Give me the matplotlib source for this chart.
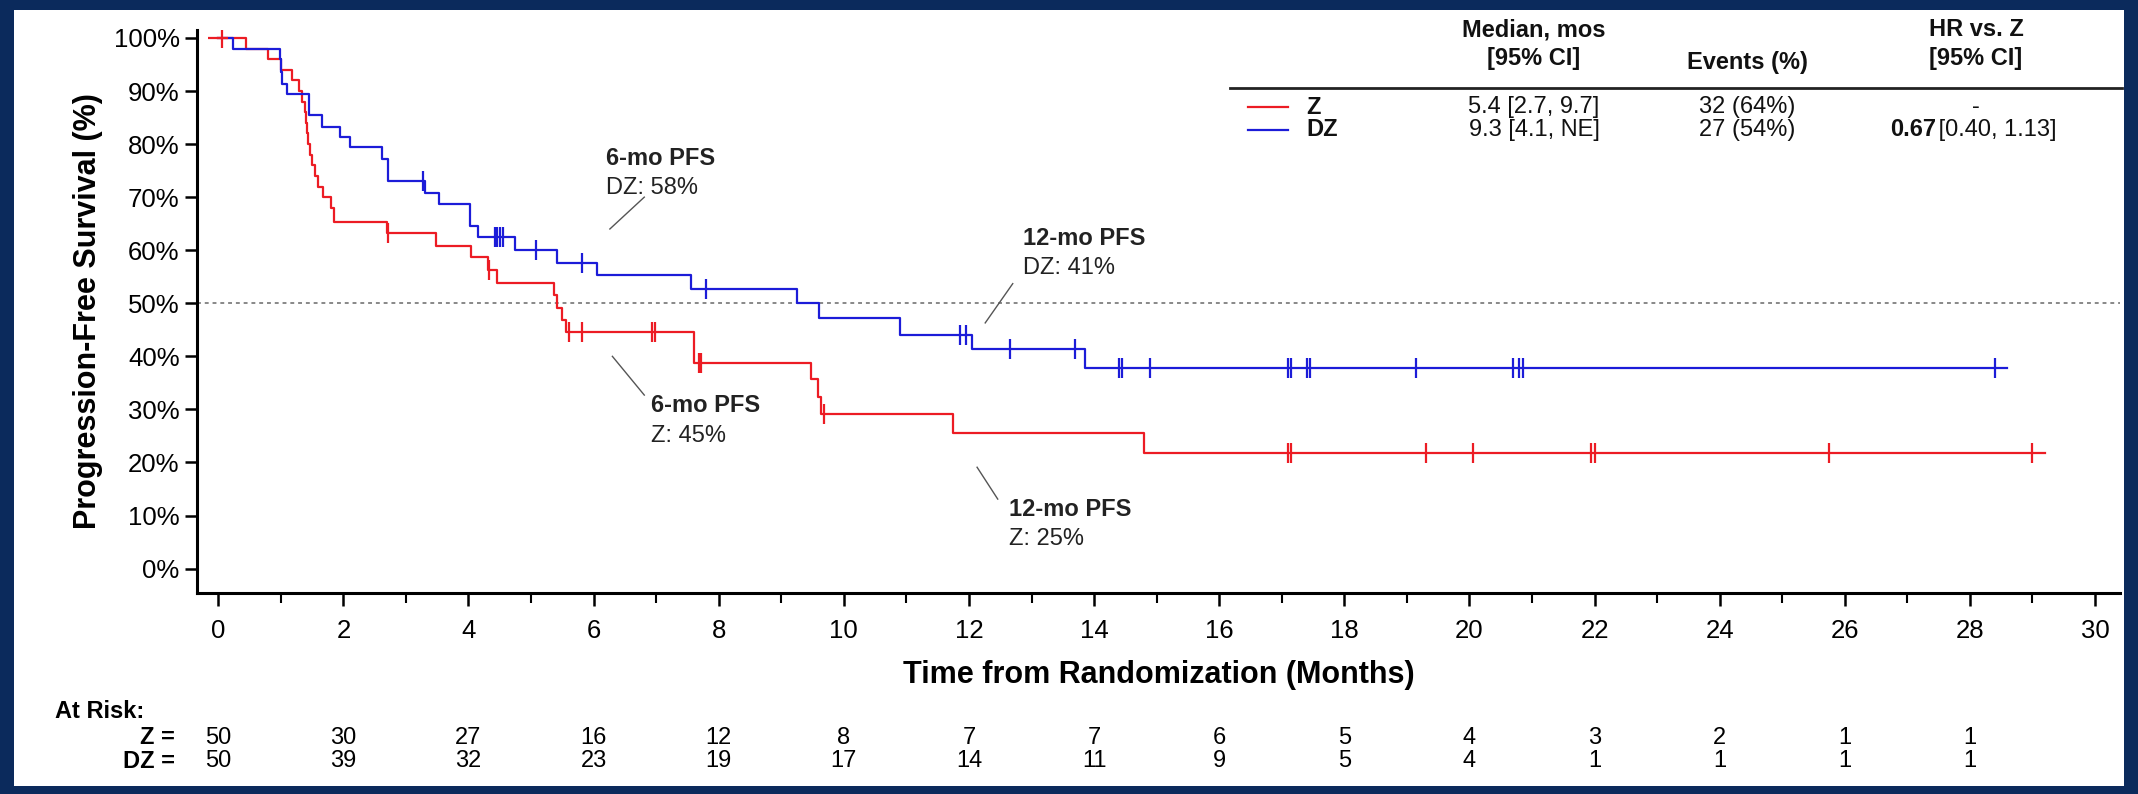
import matplotlib
matplotlib.use("Agg")
import matplotlib.pyplot as plt
import numpy as np
from matplotlib.patches import Rectangle
from matplotlib.lines import Line2D

plt.rcParams["font.family"] = ["Liberation Sans", "DejaVu Sans"]

# ----- data -----
z_event_t = [0.45, 0.8, 1.0, 1.18, 1.29, 1.34, 1.38, 1.40, 1.42, 1.44, 1.46, 1.5, 1.55, 1.6,
             1.68, 1.8, 1.85, 2.69, 3.48, 4.04, 4.31, 4.46, 5.36, 5.41, 5.5, 5.56, 7.61,
             9.48, 9.58, 9.63, 11.75, 14.8]
z_event_s = [98, 96, 94, 92, 90, 88, 86, 84, 82, 80, 78, 76, 74, 72,
             70, 68, 65.3, 63.2, 60.8, 58.7, 56.2, 53.9, 51.5, 49.2, 46.9, 44.6, 38.8,
             35.7, 32.4, 29.1, 25.5, 21.8]
z_censor = [0.06, 2.71, 4.33, 5.61, 5.81, 6.94, 6.98, 7.68, 7.72, 9.68, 17.1, 17.15,
            19.3, 20.05, 21.95, 22.0, 25.75, 29.0]
z_end = 29.2

dz_event_t = [0.24, 0.98, 1.0, 1.02, 1.1, 1.45, 1.66, 1.95, 2.11, 2.61, 2.71, 3.3, 3.53,
              4.02, 4.15, 4.74, 5.41, 6.05, 7.55, 9.25, 9.6, 10.9, 12.05, 13.85]
dz_event_s = [98, 96, 93.6, 91.4, 89.4, 85.5, 83.3, 81.3, 79.4, 77.2, 73.0, 70.8, 68.7,
              64.5, 62.4, 60.0, 57.6, 55.4, 52.6, 50.0, 47.3, 44.0, 41.3, 37.8]
dz_censor = [3.28, 4.42, 4.46, 4.5, 4.55, 5.08, 5.82, 7.8, 11.85, 11.95, 12.65, 13.7,
             14.4, 14.45, 14.9, 17.1, 17.15, 17.4, 17.45, 19.15, 20.7, 20.8, 20.85, 28.4]
dz_end = 28.6

risk_times = list(range(0, 30, 2))
z_risk = [50, 30, 27, 16, 12, 8, 7, 7, 6, 5, 4, 3, 2, 1, 1]
dz_risk = [50, 39, 32, 23, 19, 17, 14, 11, 9, 5, 4, 1, 1, 1, 1]

RED = "#ec1c24"
BLUE = "#1c1cd8"
NAVY = "#0b2a5c"

W, H = 2138, 794
fig = plt.figure(figsize=(W / 100, H / 100), dpi=100, facecolor=NAVY)
fig.patches.append(Rectangle((14 / W, 8 / H), 1 - 28 / W, 1 - 18 / H, transform=fig.transFigure,
                             facecolor="white", edgecolor="none", zorder=-5))

ax = fig.add_axes([197 / W, 1 - 593 / H, (2120 - 197) / W, (593 - 30) / H])
ax.set_facecolor("none")
ax.set_zorder(2)


def draw_km(ax, t, s, cens, end, color):
    xs = np.concatenate([[0], t, [end]])
    ys = np.concatenate([[100], s, [s[-1]]])
    ax.step(xs, ys, where="post", color=color, lw=1.6, zorder=3)
    idx = np.searchsorted(t, cens, side="right")
    cy = np.where(idx == 0, 100, np.array(s)[np.maximum(idx - 1, 0)])
    ax.plot(cens, cy, ls="none", marker="|", ms=14, mew=1.6, color=color, zorder=4)


draw_km(ax, z_event_t, z_event_s, z_censor, z_end, RED)
draw_km(ax, dz_event_t, dz_event_s, dz_censor, dz_end, BLUE)
ax.plot([0], [100], marker="_", ms=14, mew=1.6, color=RED, zorder=4)

ax.axhline(50, color="#888888", ls=(0, (2, 2)), lw=1.4, zorder=1)

ax.set_xlim(-0.34, 30.4)
ax.set_ylim(-4.6, 101.5)
ax.set_xticks(range(0, 31, 2))
ax.set_xticks(range(1, 31, 2), minor=True)
ax.set_yticks(range(0, 101, 10))
ax.set_yticklabels([f"{v}%" for v in range(0, 101, 10)])
ax.tick_params(axis="both", which="major", length=9, width=1.8, labelsize=18.5, direction="out")
ax.tick_params(axis="x", which="major", pad=10)
ax.tick_params(axis="x", which="minor", length=7, width=1.5)
ax.spines["top"].set_visible(False)
ax.spines["right"].set_visible(False)
for sp in ("left", "bottom"):
    ax.spines[sp].set_linewidth(2.2)
ax.set_ylabel("Progression-Free Survival (%)", fontsize=22, fontweight="bold", labelpad=8)
ax.set_xlabel("Time from Randomization (Months)", fontsize=22, fontweight="bold", labelpad=12)

# annotations
ann_kw = dict(fontsize=17, color="#222222")
ax.plot([6.26, 6.81], [64, 70], color="#555555", lw=1)
ax.text(6.2, 76, "6-mo PFS", fontweight="bold", **ann_kw)
ax.text(6.2, 70.5, "DZ: 58%", **ann_kw)
ax.plot([12.26, 12.7], [46.3, 53.7], color="#555555", lw=1)
ax.text(12.86, 61, "12-mo PFS", fontweight="bold", **ann_kw)
ax.text(12.86, 55.5, "DZ: 41%", **ann_kw)
ax.plot([6.3, 6.81], [40, 32.7], color="#555555", lw=1)
ax.text(6.92, 29.5, "6-mo PFS", fontweight="bold", **ann_kw)
ax.text(6.92, 23.8, "Z: 45%", **ann_kw)
ax.plot([12.13, 12.46], [19.1, 13.1], color="#555555", lw=1)
ax.text(12.64, 10, "12-mo PFS", fontweight="bold", **ann_kw)
ax.text(12.64, 4.5, "Z: 25%", **ann_kw)


def fx(x):
    return x / W


def fy(y):
    return 1 - y / H


# legend table (figure pixel coords)
tkw = dict(fontsize=17, color="#111111", transform=fig.transFigure, ha="center", va="center")
fig.text(fx(1534), fy(30), "Median, mos", fontweight="bold", **tkw)
fig.text(fx(1534), fy(59), "[95% CI]", fontweight="bold", **tkw)
fig.text(fx(1747), fy(62), "Events (%)", fontweight="bold", **tkw)
fig.text(fx(1976), fy(30), "HR vs. Z", fontweight="bold", **tkw)
fig.text(fx(1976), fy(59), "[95% CI]", fontweight="bold", **tkw)
fig.add_artist(Line2D([fx(1230), fx(2122)], [fy(88), fy(88)], color="#222222", lw=2,
                      transform=fig.transFigure))
rows = [("Z", RED, "5.4 [2.7, 9.7]", "32 (64%)", None, "-", 107),
        ("DZ", BLUE, "9.3 [4.1, NE]", "27 (54%)", "0.67", " [0.40, 1.13]", 130)]
for name, col, med, ev, hrb, hr, y in rows:
    fig.add_artist(Line2D([fx(1248), fx(1288)], [fy(y), fy(y)], color=col, lw=1.6,
                          transform=fig.transFigure))
    fig.text(fx(1306), fy(y), name, fontweight="bold", **{**tkw, "ha": "left"})
    fig.text(fx(1534), fy(y), med, **tkw)
    fig.text(fx(1747), fy(y), ev, **tkw)
    if hrb is None:
        fig.text(fx(1976), fy(y), hr, **tkw)
    else:
        fig.text(fx(1890), fy(y), hrb, fontweight="bold", **{**tkw, "ha": "left"})
        fig.text(fx(1932), fy(y), hr, **{**tkw, "ha": "left"})

# at risk table
fig.text(fx(55), fy(712), "At Risk:", fontsize=17, fontweight="bold", ha="left", va="center")
for label, vals, y in (("Z =", z_risk, 738), ("DZ =", dz_risk, 761)):
    fig.text(fx(175), fy(y), label, fontsize=17, fontweight="bold", ha="right", va="center")
    for t, v in zip(risk_times, vals):
        xf = fig.transFigure.inverted().transform(ax.transData.transform((t, 0)))[0]
        fig.text(xf, fy(y), str(v), fontsize=17, ha="center", va="center")

fig.savefig("out.png", dpi=100, facecolor=NAVY)
